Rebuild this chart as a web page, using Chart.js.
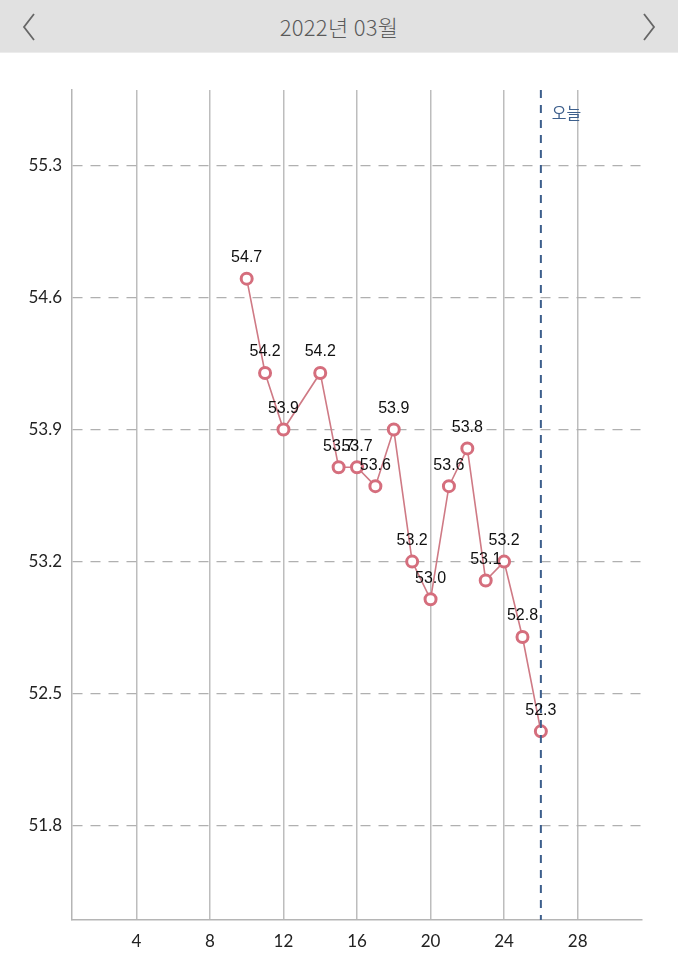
<!DOCTYPE html>
<html>
<head>
<meta charset="utf-8">
<script src="https://cdn.jsdelivr.net/npm/chart.js@4"></script>
<style>
  html, body { margin: 0; padding: 0; background: #fff; }
  body { width: 678px; height: 960px; overflow: hidden; font-family: "Noto Sans CJK KR", "Noto Sans", sans-serif; }
  .header {
    position: absolute; left: 0; top: 0; width: 678px; height: 52px;
    background: #e1e1e1; border-bottom: 1px solid #ececec;
  }
  .header .title {
    position: absolute; left: 0; right: 0; top: 10px; text-align: center;
    font-size: 22px; color: #5a5a5a; letter-spacing: 0.3px; font-weight: 300;
  }
  .header svg { position: absolute; top: 13px; }
  .wrap { position: absolute; left: 0; top: 53px; width: 678px; height: 907px; }
</style>
</head>
<body>
<div class="header">
  <svg style="left:22px" width="14" height="28"><polyline points="12,1 2,14 12,27" fill="none" stroke="#666" stroke-width="1.8"/></svg>
  <div class="title">2022년 03월</div>
  <svg style="left:642px" width="14" height="28"><polyline points="2,1 12,14 2,27" fill="none" stroke="#666" stroke-width="1.8"/></svg>
</div>
<div class="wrap"><canvas id="weightChart"></canvas></div>
<script>
// Days of March with a recorded weight, and the weight for each day
const days = [10, 11, 12, 14, 15, 16, 17, 18, 19, 20, 21, 22, 23, 24, 25, 26];
const weights = [54.7, 54.2, 53.9, 54.2, 53.7, 53.7, 53.6, 53.9, 53.2, 53.0, 53.6, 53.8, 53.1, 53.2, 52.8, 52.3];

// Axis ticks
const xTicks = [4, 8, 12, 16, 20, 24, 28];
const yTicks = [51.8, 52.5, 53.2, 53.9, 54.6, 55.3];

// Today marker
const today = 26;
const todayLabel = '오늘';

// Draw value labels above each point
const valueLabels = {
  id: 'valueLabels',
  afterDatasetsDraw(chart) {
    const ctx = chart.ctx;
    const meta = chart.getDatasetMeta(0);
    ctx.save();
    ctx.font = '16px "Liberation Sans", Arial, sans-serif';
    ctx.fillStyle = '#111';
    ctx.textAlign = 'center';
    ctx.textBaseline = 'middle';
    meta.data.forEach((pt, i) => {
      ctx.fillText(weights[i].toFixed(1), pt.x, pt.y - 21);
    });
    ctx.restore();
  }
};

// Dashed vertical line for today
const todayLine = {
  id: 'todayLine',
  afterDatasetsDraw(chart) {
    const ctx = chart.ctx;
    const area = chart.chartArea;
    const x = chart.scales.x.getPixelForValue(today);
    ctx.save();
    ctx.strokeStyle = '#3d5f8c';
    ctx.lineWidth = 2;
    ctx.setLineDash([8, 7]);
    ctx.beginPath();
    ctx.moveTo(x, area.top);
    ctx.lineTo(x, area.bottom);
    ctx.stroke();
    ctx.setLineDash([]);
    ctx.fillStyle = '#3d5f8c';
    ctx.font = '16px "Noto Sans CJK KR", sans-serif';
    ctx.textAlign = 'left';
    ctx.textBaseline = 'middle';
    ctx.fillText(todayLabel, x + 11, area.top + 23);
    ctx.restore();
  }
};

new Chart(document.getElementById('weightChart').getContext('2d'), {
  type: 'line',
  data: {
    datasets: [{
      data: days.map((d, i) => ({ x: d, y: weights[i] })),
      borderColor: '#cf7a85',
      borderWidth: 1.6,
      pointRadius: 5.5,
      pointBorderWidth: 3,
      pointBorderColor: '#d56e7d',
      pointBackgroundColor: '#fff',
      fill: false,
      tension: 0
    }]
  },
  options: {
    responsive: true,
    maintainAspectRatio: false,
    animation: false,
    layout: { padding: { top: 37, right: 36, left: 0, bottom: 0 } },
    plugins: { legend: { display: false }, tooltip: { enabled: false } },
    scales: {
      x: {
        type: 'linear',
        min: 0.5,
        max: 31.5,
        afterBuildTicks: (scale) => { scale.ticks = xTicks.map(v => ({ value: v })); },
        afterFit: (scale) => { scale.height = 40; },
        grid: { color: '#bdbdbd', lineWidth: 1.5, drawTicks: false },
        border: { display: true, color: '#b5b5b5', width: 1.5 },
        ticks: { padding: 11, color: '#222', font: { family: 'Lato', size: 17 } }
      },
      y: {
        min: 51.3,
        max: 55.7,
        afterBuildTicks: (scale) => { scale.ticks = yTicks.map(v => ({ value: v })); },
        afterFit: (scale) => { scale.width = 72; },
        grid: { color: '#b0b0b0', lineWidth: 1.2, drawTicks: false },
        border: { display: true, color: '#b5b5b5', width: 1.5, dash: [10, 8] },
        ticks: {
          padding: 10, color: '#222', font: { family: 'Lato', size: 17 },
          callback: (v) => Number(v).toFixed(1)
        }
      }
    }
  },
  plugins: [todayLine, valueLabels]
});
</script>
</body>
</html>
